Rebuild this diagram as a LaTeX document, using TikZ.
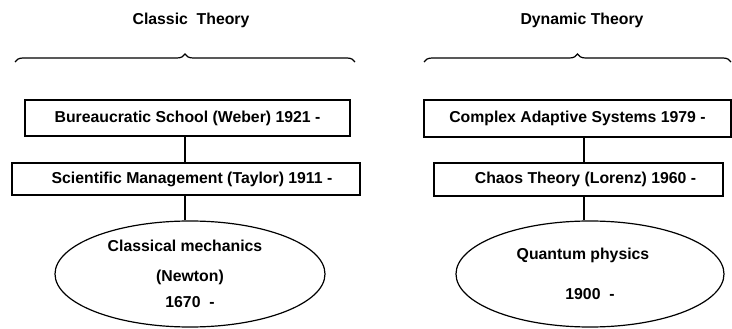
\documentclass[tikz,border=0pt]{standalone}
\usepackage{fontspec}
\setmainfont{Liberation Sans}
\usepackage{tikz}
\usetikzlibrary{shapes.geometric, decorations.pathreplacing, positioning}

\tikzset{
  % Theory headings
  theorytitle/.style={font=\fontsize{15.8}{18}\selectfont\bfseries, inner sep=0pt},
  % Rectangular stage boxes
  stagebox/.style={
    rectangle, draw=black, line width=1.2pt, fill=white,
    font=\fontsize{15.8}{18}\selectfont\bfseries, align=center, inner sep=0pt,
  },
  % Root ellipses
  rootnode/.style={
    ellipse, draw=black, line width=1.2pt, fill=white,
    minimum width=270pt, minimum height=106pt, inner sep=0pt,
    font=\fontsize{15.8}{18}\selectfont\bfseries, align=center,
  },
  % Connectors
  link/.style={line width=1.2pt, draw=black},
  groupbrace/.style={decorate, decoration={brace, amplitude=8pt}, line width=1.2pt},
}

\begin{document}
\begin{tikzpicture}[x=1pt, y=-1pt]
  \useasboundingbox (0,0) rectangle (732,329);

  % Classic side
  \node[theorytitle] (classic) at (191,20) {Classic~ Theory};
  \coordinate (cbl) at (15,62);
  \coordinate (cbr) at (355,62);
  \draw[groupbrace] (cbl) -- (cbr);

  \node[stagebox, minimum width=325pt, minimum height=36pt] (weber) at (187.5,118)
    {Bureaucratic School (Weber) 1921 -};
  \node[stagebox, minimum width=348pt, minimum height=32pt] (taylor) at (186,179)
    {\hspace*{12pt}Scientific Management (Taylor) 1911 -};
  \node[rootnode] (newton) at (190,274)
    {\hspace*{-10pt}Classical mechanics\\[12pt](Newton)\\[8pt]1670~ -};

  \draw[link] (weber.south -| 185,0) -- (taylor.north -| 185,0);
  \draw[link] (taylor.south -| 185,0) -- (newton.north -| 185,0);

  % Dynamic side
  \node[theorytitle] (dynamic) at (582,20) {Dynamic Theory};
  \coordinate (dbl) at (424,62);
  \coordinate (dbr) at (731,62);
  \draw[groupbrace] (dbl) -- (dbr);

  \node[stagebox, minimum width=307pt, minimum height=37pt] (cas) at (577.5,118.5)
    {Complex Adaptive Systems 1979 -};
  \node[stagebox, minimum width=289pt, minimum height=33pt] (lorenz) at (578.5,179.5)
    {\hspace*{14pt}Chaos Theory (Lorenz) 1960 -};
  \node[rootnode, minimum width=268pt] (quantum) at (590,274)
    {\hspace*{-14pt}Quantum physics\\[22pt]1900~ -};

  \draw[link] (cas.south -| 584,0) -- (lorenz.north -| 584,0);
  \draw[link] (lorenz.south -| 584,0) -- (quantum.north -| 584,0);
\end{tikzpicture}
\end{document}
